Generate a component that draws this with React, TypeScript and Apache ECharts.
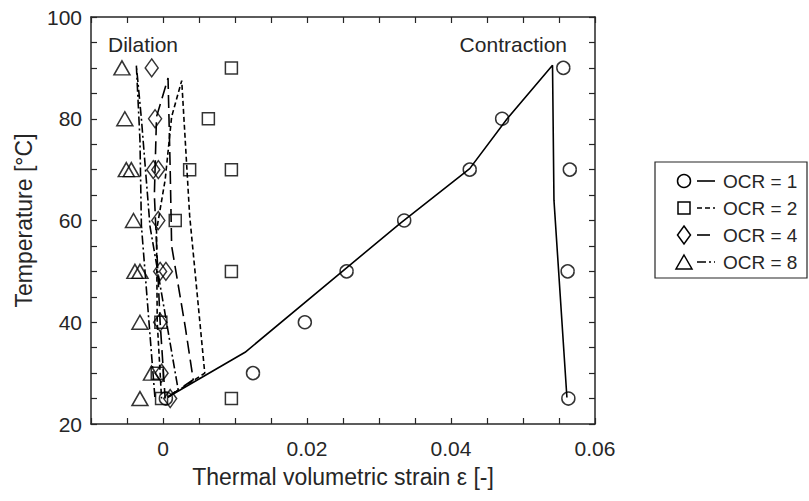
import React, { useEffect, useRef } from "react";
import * as echarts from "echarts";

// ---- Data ----
const xTickValues = [0, 0.02, 0.04, 0.06];
const xTickLabels = ["0", "0.02", "0.04", "0.06"];
const yTickValues = [20, 40, 60, 80, 100];
const yTickLabels = ["20", "40", "60", "80", "100"];

// measured points (markers)
const ocr1Strain = [0.0004, 0.0125, 0.0197, 0.0255, 0.0335, 0.0426, 0.0471, 0.0556, 0.0565, 0.0562, 0.0563];
const ocr1Temp = [25, 30, 40, 50, 60, 70, 80, 90, 70, 50, 25];
const ocr2Strain = [-0.0002, -0.0008, -0.0003, 0.0017, 0.0037, 0.0063, 0.0095, 0.0095, 0.0095, 0.0095];
const ocr2Temp = [25, 30, 40, 60, 70, 80, 90, 70, 50, 25];
const ocr4Strain = [0.001, -0.0002, -0.0004, -0.0004, -0.00065, -0.00135, -0.0011, -0.00157, -0.00065, 0.0004];
const ocr4Temp = [25, 30, 40, 50, 60, 70, 80, 90, 70, 50];
const ocr8Strain = [-0.0032, -0.0016, -0.0032, -0.0039, -0.0041, -0.0051, -0.0053, -0.0057, -0.0044, -0.0032];
const ocr8Temp = [25, 30, 40, 50, 60, 70, 80, 90, 70, 50];

// model curves (lines)
const ocr1ModelStrain = [0.0007, 0.0114, 0.0329, 0.0426, 0.0478, 0.0541, 0.0543, 0.0561];
const ocr1ModelTemp = [25.3, 34.1, 59.4, 70.2, 80, 90.5, 64, 25.2];
const ocr2ModelStrain = [0.0007, 0.0058, 0.0037, 0.0026, 0.0012, 0.0003, -0.0009, -0.0008, -0.0002];
const ocr2ModelTemp = [25.3, 30, 61, 87.5, 80.4, 68, 58, 40, 25];
const ocr4ModelStrain = [0.0007, 0.0042, 0.0031, 0.0012, 0.001, 0.0007, -0.0009, -0.0012, -0.0004, 0.0003];
const ocr4ModelTemp = [25.3, 28.7, 39, 55, 70, 88, 80.4, 65, 40, 25];
const ocr8ModelStrain = [0.0007, 0.0021, -0.0018, -0.003, -0.0037, -0.0032, -0.003, -0.0011];
const ocr8ModelTemp = [25.3, 26.8, 58.8, 80, 90.5, 75.8, 59, 24.8];

const legendLabels = ["OCR = 1", "OCR = 2", "OCR = 4", "OCR = 8"];

const FONT = '"Liberation Sans", Arial, Helvetica, sans-serif';
const TXT = "#262626";

const zip = (xs: number[], ys: number[]) => xs.map((x, i) => [x, ys[i]]);

const fmt = (vals: number[], labels: string[]) => (v: number) => {
  const i = vals.findIndex((t) => Math.abs(t - v) < 1e-9);
  return i >= 0 ? labels[i] : "";
};

const DASHES: any[] = ["solid", [5, 3], [13, 6], [9, 3, 2, 3]];

export default function App() {
  const ref = useRef<HTMLDivElement>(null);
  useEffect(() => {
    if (!ref.current) return;
    const chart = echarts.init(ref.current, null, { renderer: "svg" });
    const axisLine = { show: true, onZero: false, lineStyle: { color: TXT, width: 1.5 } };
    const axisTick = { show: true, inside: true, length: 6, lineStyle: { color: TXT, width: 1.2 } };
    const markerStyle = { color: "transparent", borderColor: "#000", borderWidth: 1.5 };
    const lineSeries = (name: string, xs: number[], ys: number[], dash: any) => ({
      type: "line",
      name,
      data: zip(xs, ys),
      showSymbol: false,
      symbol: "none",
      lineStyle: { color: "#000", width: 1.6, type: dash },
      z: 3,
      silent: true,
    });
    const scatterSeries = (name: string, xs: number[], ys: number[], symbol: string, size: any) => ({
      type: "scatter",
      name,
      data: zip(xs, ys),
      symbol,
      symbolSize: size,
      itemStyle: markerStyle,
      z: 4,
      silent: true,
    });

    // legend graphic
    const rowY = [181, 208, 235, 262];
    const mx = 684;
    const legendChildren: any[] = [
      {
        type: "rect",
        shape: { x: 655, y: 162, width: 152, height: 116 },
        style: { fill: "#fff", stroke: TXT, lineWidth: 1.2 },
      },
    ];
    rowY.forEach((cy, i) => {
      const st = { fill: "none", stroke: "#000", lineWidth: 1.5 };
      if (i === 0) legendChildren.push({ type: "circle", shape: { cx: mx, cy, r: 6.5 }, style: st });
      if (i === 1) legendChildren.push({ type: "rect", shape: { x: mx - 6, y: cy - 6, width: 12, height: 12 }, style: st });
      if (i === 2)
        legendChildren.push({
          type: "polygon",
          shape: { points: [[mx, cy - 9], [mx + 6.5, cy], [mx, cy + 9], [mx - 6.5, cy]] },
          style: st,
        });
      if (i === 3)
        legendChildren.push({
          type: "polygon",
          shape: { points: [[mx, cy - 7], [mx + 8, cy + 7], [mx - 8, cy + 7]] },
          style: st,
        });
      legendChildren.push({
        type: "line",
        shape: { x1: 697, y1: cy, x2: 715, y2: cy },
        style: {
          stroke: "#000",
          lineWidth: 1.6,
          lineDash: DASHES[i] === "solid" ? null : DASHES[i],
        },
      });
      legendChildren.push({
        type: "text",
        x: 723,
        y: cy,
        style: {
          text: legendLabels[i],
          fontSize: 19,
          fontFamily: FONT,
          fill: TXT,
          textVerticalAlign: "middle",
          verticalAlign: "middle",
        },
      });
    });

    chart.setOption({
      animation: false,
      backgroundColor: "#fff",
      grid: { left: 91, right: 214, top: 17, bottom: 77 },
      xAxis: [
        {
          type: "value",
          min: -0.01,
          max: 0.06,
          interval: 0.005,
          position: "bottom",
          axisLine,
          axisTick,
          splitLine: { show: false },
          axisLabel: {
            formatter: fmt(xTickValues, xTickLabels),
            fontSize: 21,
            fontFamily: FONT,
            color: TXT,
            margin: 14,
            showMinLabel: true,
            showMaxLabel: true,
          },
          name: "Thermal volumetric strain ε [-]",
          nameLocation: "middle",
          nameGap: 41,
          nameTextStyle: { fontSize: 23, fontFamily: FONT, color: TXT },
        },
        {
          type: "value",
          min: -0.01,
          max: 0.06,
          interval: 0.005,
          position: "top",
          axisLine,
          axisTick,
          splitLine: { show: false },
          axisLabel: { show: false },
        },
      ],
      yAxis: [
        {
          type: "value",
          min: 20,
          max: 100,
          interval: 5,
          position: "left",
          axisLine,
          axisTick,
          splitLine: { show: false },
          axisLabel: {
            formatter: fmt(yTickValues, yTickLabels),
            fontSize: 21,
            fontFamily: FONT,
            color: TXT,
            margin: 9,
          },
          name: "Temperature [°C]",
          nameLocation: "middle",
          nameGap: 56,
          nameTextStyle: { fontSize: 23, fontFamily: FONT, color: TXT },
        },
        {
          type: "value",
          min: 20,
          max: 100,
          interval: 5,
          position: "right",
          axisLine,
          axisTick,
          splitLine: { show: false },
          axisLabel: { show: false },
        },
      ],
      series: [
        lineSeries("OCR = 1 model", ocr1ModelStrain, ocr1ModelTemp, DASHES[0]),
        lineSeries("OCR = 2 model", ocr2ModelStrain, ocr2ModelTemp, DASHES[1]),
        lineSeries("OCR = 4 model", ocr4ModelStrain, ocr4ModelTemp, DASHES[2]),
        lineSeries("OCR = 8 model", ocr8ModelStrain, ocr8ModelTemp, DASHES[3]),
        scatterSeries("OCR = 1", ocr1Strain, ocr1Temp, "circle", 13),
        scatterSeries("OCR = 2", ocr2Strain, ocr2Temp, "rect", 12),
        scatterSeries("OCR = 4", ocr4Strain, ocr4Temp, "diamond", [13, 18]),
        scatterSeries("OCR = 8", ocr8Strain, ocr8Temp, "triangle", [16, 14]),
      ],
      graphic: [
        {
          type: "text",
          x: 108,
          y: 34,
          style: { text: "Dilation", fontSize: 21, fontFamily: FONT, fill: TXT },
        },
        {
          type: "text",
          x: 567,
          y: 34,
          style: { text: "Contraction", fontSize: 21, fontFamily: FONT, fill: TXT, textAlign: "right", align: "right" },
        },
        { type: "group", children: legendChildren },
      ],
    });
    return () => chart.dispose();
  }, []);
  return (
    <div
      ref={ref}
      style={{ position: "absolute", left: 0, top: 0, width: 809, height: 501, background: "#fff" }}
    />
  );
}
